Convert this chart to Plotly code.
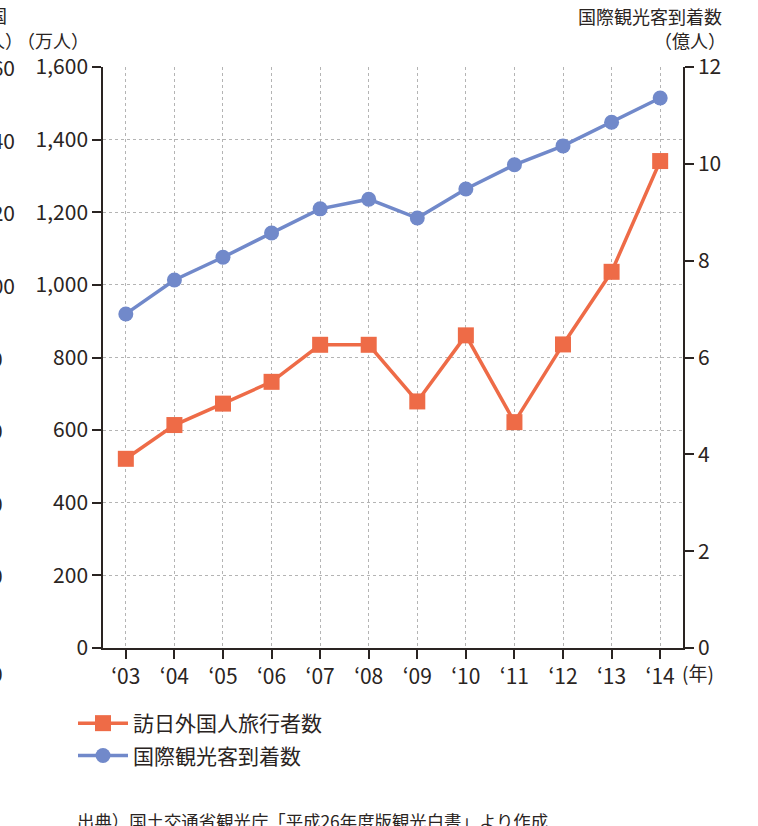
import plotly.graph_objects as go

years = ["‘03", "‘04", "‘05", "‘06", "‘07", "‘08", "‘09", "‘10", "‘11", "‘12", "‘13", "‘14"]
visitors_japan = [521, 614, 673, 733, 835, 835, 679, 861, 622, 836, 1036, 1341]  # 万人
intl_arrivals = [6.9, 7.6, 8.07, 8.57, 9.07, 9.27, 8.88, 9.48, 9.98, 10.37, 10.86, 11.36]  # 億人
left_ticks = [0, 200, 400, 600, 800, 1000, 1200, 1400, 1600]
right_ticks = [0, 2, 4, 6, 8, 10, 12]

ORANGE = "#EE6B47"
BLUE = "#7189CA"
INK = "#2A2422"
FONT = "Noto Sans CJK JP"

W, H = 758, 826
ML, MR, MT, MB = 103, 75, 67, 178
PW = W - ML - MR
PH = H - MT - MB

x = list(range(len(years)))

fig = go.Figure()
fig.add_trace(go.Scatter(
    x=x, y=visitors_japan, name="訪日外国人旅行者数", mode="lines+markers",
    line=dict(color=ORANGE, width=3.5),
    marker=dict(symbol="square", size=16, color=ORANGE),
    yaxis="y", legendgroup="a",
))
fig.add_trace(go.Scatter(
    x=x, y=intl_arrivals, name="国際観光客到着数", mode="lines+markers",
    line=dict(color=BLUE, width=3.5),
    marker=dict(symbol="circle", size=15, color=BLUE),
    yaxis="y2", legendgroup="b",
))

def px_x(p):
    return (p - ML) / PW

def px_y(p):
    return (H - MB - p) / PH

def ann(text, px, py, xanchor, size, yanchor="middle"):
    return dict(text=text, x=px_x(px), y=px_y(py), xref="paper", yref="paper",
                xanchor=xanchor, yanchor=yanchor, showarrow=False, borderpad=0,
                font=dict(size=size, color=INK, family=FONT))

annotations = [
    ann("（万人）", 90, 40, "right", 18),
    ann("国際観光客到着数", 723, 16, "right", 18),
    ann("（億人）", 727, 40, "right", 18),
    ann("(年)", 681, 673, "left", 19),
    ann("出典）国土交通省観光庁「平成26年度版観光白書」より作成", 76, 807, "left", 17.4, "top"),
    # partially visible neighbouring axis at the left page edge
    ann("外国", 8, 15, "right", 18),
    ann("（万人）", 24, 40, "right", 18),
]
edge_labels = ["160", "140", "120", "100"]
edge_levels = [1600, 1400, 1200, 1000]
for t, v in zip(edge_labels, edge_levels):
    annotations.append(dict(text=t, x=px_x(16), y=v, xref="paper", yref="y",
                            xanchor="right", yanchor="middle", showarrow=False, borderpad=0,
                            font=dict(size=21, color=INK, family=FONT)))
for v in [800, 600, 400, 200]:
    annotations.append(dict(text="0", x=px_x(4), y=v, xref="paper", yref="y",
                            xanchor="right", yanchor="middle", showarrow=False, borderpad=0,
                            font=dict(size=21, color=INK, family=FONT)))
annotations.append(ann("0", 4, 673, "right", 21))

fig.update_layout(
    width=W, height=H, autosize=False,
    margin=dict(l=ML, r=MR, t=MT, b=MB),
    paper_bgcolor="white", plot_bgcolor="white",
    font=dict(family=FONT, color=INK, size=21),
    showlegend=True,
    legend=dict(x=px_x(73), y=px_y(703), xanchor="left", yanchor="top",
                font=dict(size=21, color=INK, family=FONT), tracegroupgap=2,
                bgcolor="rgba(0,0,0,0)", itemwidth=50),
    xaxis=dict(
        range=[-0.47, len(years) - 1 + 0.47], tickvals=x, ticktext=years,
        showgrid=True, gridcolor="#B4B4B4", griddash="dot", gridwidth=1,
        ticks="outside", ticklen=9, tickcolor=INK, tickwidth=1.5,
        showline=True, linecolor=INK, linewidth=1.5, zeroline=False,
        tickfont=dict(size=21, color=INK, family=FONT),
    ),
    yaxis=dict(
        range=[0, 1600], tickvals=left_ticks, tickformat=",",
        showgrid=True, gridcolor="#B4B4B4", griddash="dot", gridwidth=1,
        ticks="outside", ticklen=9, tickcolor=INK, tickwidth=1.5,
        showline=True, linecolor=INK, linewidth=1.5, zeroline=False,
        tickfont=dict(size=21, color=INK, family=FONT),
    ),
    yaxis2=dict(
        range=[0, 12], tickvals=right_ticks, overlaying="y", side="right",
        showgrid=False, ticks="outside", ticklen=9, tickcolor=INK, tickwidth=1.5,
        showline=True, linecolor=INK, linewidth=1.5, zeroline=False,
        tickfont=dict(size=21, color=INK, family=FONT),
    ),
    annotations=annotations,
)

fig.write_html("out.html", config={"displayModeBar": False},
               post_script="document.body.style.margin='0px';")
